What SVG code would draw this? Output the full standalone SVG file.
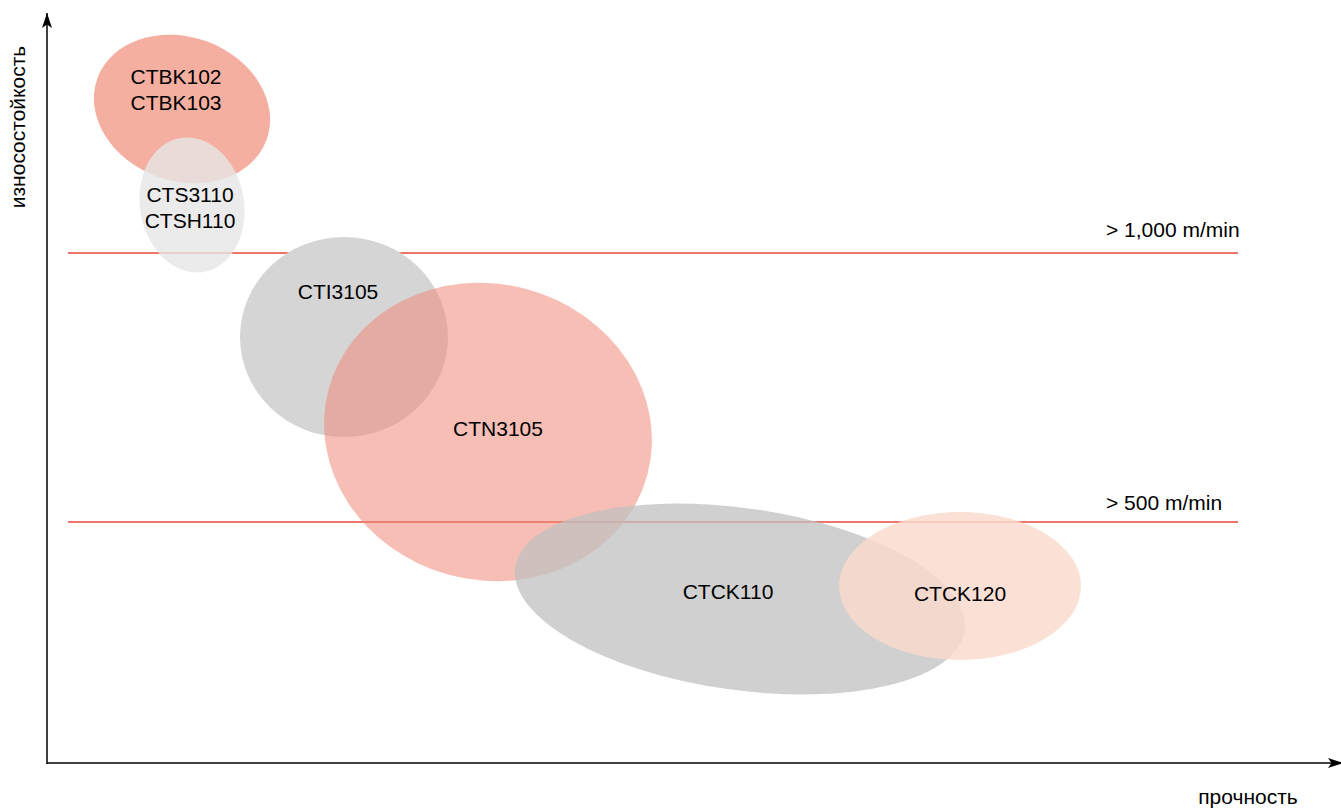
<svg xmlns="http://www.w3.org/2000/svg" width="1341" height="808" viewBox="0 0 1341 808">
<style>
text{font-family:"Liberation Sans",Arial,sans-serif;font-size:21px;fill:#000}
.c{text-anchor:middle}
.lim{stroke:#e8473a;stroke-width:1.5;fill:none}
.ax{stroke:#000;stroke-width:1.5;fill:none}
</style>
<defs>
<marker id="ah" markerWidth="17" markerHeight="12" refX="15" refY="5" orient="auto" markerUnits="userSpaceOnUse"><path d="M0,0 L15,5 L0,10 L3.5,5 Z" fill="#000"/></marker>
</defs>
<rect width="1341" height="808" fill="#fff"/>
<g id="connectors">
<line class="ax" x1="47" y1="764" x2="47" y2="13" marker-end="url(#ah)"/>
<line class="ax" x1="47" y1="763" x2="1343" y2="763" marker-end="url(#ah)"/>
<line class="lim" x1="68" y1="253" x2="1238" y2="253"/>
<line class="lim" x1="68" y1="522" x2="1238" y2="522"/>
</g>
<g id="ctbk"><ellipse cx="182" cy="109" rx="90" ry="72" transform="rotate(20 182 109)" fill="#f4afa1"/></g>
<g id="cts"><ellipse cx="192" cy="205" rx="52" ry="68" transform="rotate(-10 192 205)" fill="#e6e6e6" fill-opacity="0.8"/></g>
<g id="cti"><ellipse cx="344" cy="337" rx="104" ry="100" fill="#d5d5d5"/></g>
<g id="ctn"><ellipse cx="488" cy="432" rx="165" ry="148" transform="rotate(15 488 432)" fill="#ee8877" fill-opacity="0.55"/></g>
<g id="ctck110"><ellipse cx="740" cy="599" rx="227" ry="91" transform="rotate(8 740 599)" fill="#c0c0c0" fill-opacity="0.75"/></g>
<g id="ctck120"><ellipse cx="960" cy="586" rx="121" ry="74" fill="#fadacc" fill-opacity="0.83"/></g>
<g id="labels">
<text class="c" x="176" y="84">CTBK102</text>
<text class="c" x="176" y="110">CTBK103</text>
<text class="c" x="190" y="202">CTS3110</text>
<text class="c" x="190" y="228">CTSH110</text>
<text class="c" x="338" y="299">CTI3105</text>
<text class="c" x="498" y="436">CTN3105</text>
<text class="c" x="728" y="599">CTCK110</text>
<text class="c" x="960" y="601">CTCK120</text>
<text x="1106" y="237">&gt; 1,000 m/min</text>
<text x="1106" y="510">&gt; 500 m/min</text>
<text class="c" x="1248" y="804">прочность</text>
<text class="c" transform="translate(25 127) rotate(-90)">износостойкость</text>
</g>
</svg>
